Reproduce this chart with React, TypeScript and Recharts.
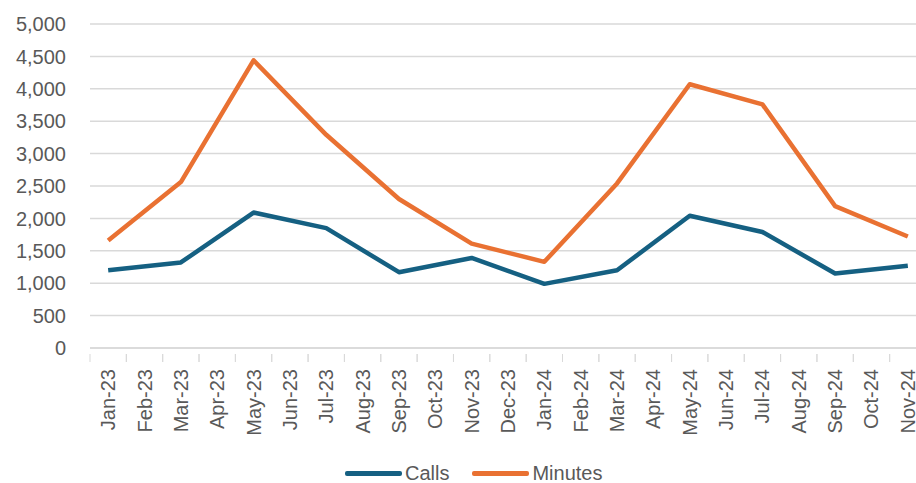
import React from "react";
import { LineChart, Line, XAxis, YAxis, CartesianGrid, Legend } from "recharts";

const months = [
  "Jan-23", "Feb-23", "Mar-23", "Apr-23", "May-23", "Jun-23", "Jul-23", "Aug-23",
  "Sep-23", "Oct-23", "Nov-23", "Dec-23", "Jan-24", "Feb-24", "Mar-24", "Apr-24",
  "May-24", "Jun-24", "Jul-24", "Aug-24", "Sep-24", "Oct-24", "Nov-24",
];

const calls: (number | null)[] = [
  1200, null, 1320, null, 2090, null, 1850, null, 1170, null, 1390, null,
  990, null, 1200, null, 2040, null, 1790, null, 1150, null, 1270,
];

const minutes: (number | null)[] = [
  1660, null, 2560, null, 4440, null, 3290, null, 2300, null, 1610, null,
  1330, null, 2540, null, 4070, null, 3760, null, 2190, null, 1720,
];

const yTicks = [0, 500, 1000, 1500, 2000, 2500, 3000, 3500, 4000, 4500, 5000];

const data = months.map((m, i) => ({ month: m, Calls: calls[i], Minutes: minutes[i] }));

const BLUE = "#156082";
const ORANGE = "#E97132";
const TEXT = "#595959";
const GRID = "#d9d9d9";
const FONT = "'Liberation Sans', Arial, sans-serif";

const XTick = (props: any) => {
  const { x, y, payload } = props;
  const off = payload && payload.offset ? payload.offset : 18.18;
  return (
    <g>
      <line x1={x - off} x2={x - off} y1={y - 15} y2={y - 7} stroke={GRID} strokeWidth={1} />
      <line x1={x + off} x2={x + off} y1={y - 15} y2={y - 7} stroke={GRID} strokeWidth={1} />
      <g transform={`translate(${x},${y})`}>
        <text x={0} y={0} dy="0.35em" textAnchor="end" transform="rotate(-90)" fill={TEXT} fontSize={20} fontFamily={FONT}>
          {payload.value}
        </text>
      </g>
    </g>
  );
};

const LegendContent = () => (
  <div style={{ position: "relative", height: 50, width: 916 }}>
    <div style={{ position: "absolute", top: 27, left: 345, height: 26, display: "flex", alignItems: "center", fontFamily: FONT, fontSize: 20, color: TEXT }}>
      <span style={{ display: "inline-block", width: 57, height: 5, borderRadius: 2, background: BLUE, marginRight: 3 }} />
      <span style={{ marginRight: 23 }}>Calls</span>
      <span style={{ display: "inline-block", width: 57, height: 5, borderRadius: 2, background: ORANGE, marginRight: 3 }} />
      <span>Minutes</span>
    </div>
  </div>
);

export default function App() {
  return (
    <div style={{ position: "absolute", left: 0, top: 0, width: 916, height: 483, overflow: "hidden", background: "#fff" }}>
      <LineChart width={930} height={483} data={data} margin={{ top: 24, right: 4, left: 0, bottom: 0 }}>
        <CartesianGrid horizontal={true} vertical={false} stroke={GRID} strokeWidth={1.5} />
        <XAxis
          dataKey="month"
          scale="band"
          interval={0}
          height={85}
          axisLine={{ stroke: GRID, strokeWidth: 1.5 }}
          tickLine={false}
          tickMargin={15}
          tick={<XTick />}
        />
        <YAxis
          width={90}
          domain={[0, 5000]}
          ticks={yTicks}
          interval={0}
          axisLine={false}
          tickLine={false}
          tickSize={0}
          tickMargin={24}
          tickFormatter={(v: number) => v.toLocaleString("en-US")}
          tick={{ fill: TEXT, fontSize: 20, fontFamily: FONT }}
        />
        <Legend verticalAlign="bottom" height={50} content={<LegendContent />} wrapperStyle={{ left: 0, width: 916 }} />
        <Line type="linear" dataKey="Calls" stroke={BLUE} strokeWidth={4.5} dot={false} connectNulls isAnimationActive={false} strokeLinejoin="round" />
        <Line type="linear" dataKey="Minutes" stroke={ORANGE} strokeWidth={4.5} dot={false} connectNulls isAnimationActive={false} strokeLinejoin="round" />
      </LineChart>
    </div>
  );
}
